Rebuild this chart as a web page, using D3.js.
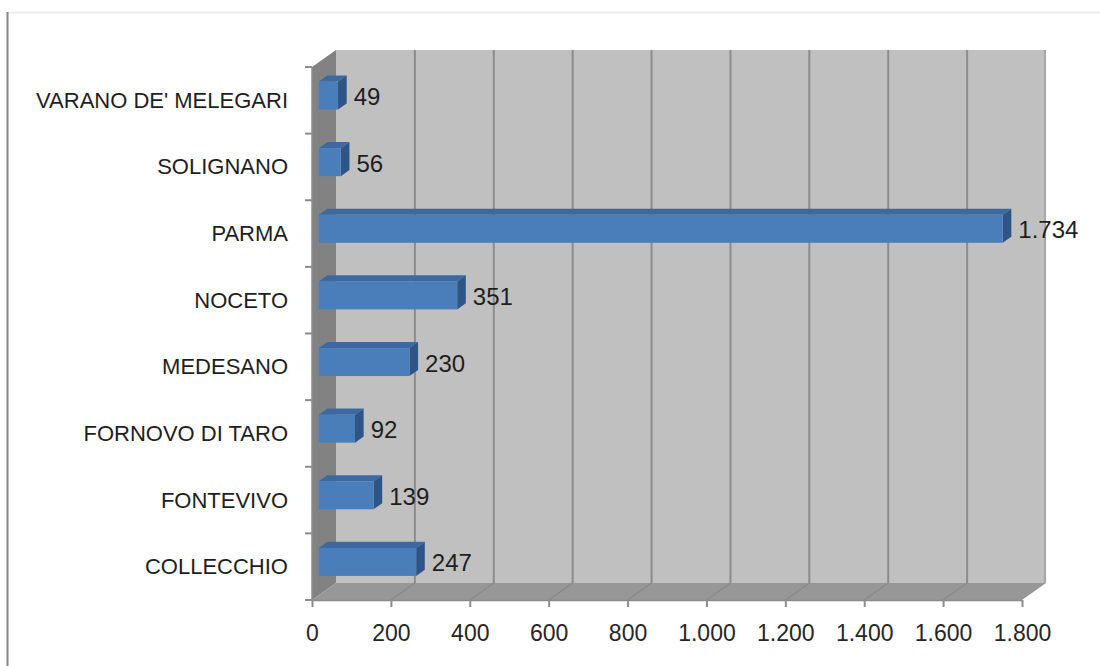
<!DOCTYPE html>
<html>
<head>
<meta charset="utf-8">
<script src="https://cdn.jsdelivr.net/npm/d3@7"></script>
<style>
  html, body { margin: 0; padding: 0; background: #ffffff; }
  svg { display: block; }
  text { font-family: "Liberation Sans", Arial, sans-serif; }
</style>
</head>
<body>
<svg id="chart" width="1100" height="666"></svg>
<script>
// Categories (bottom to top) and their values
const categories = ["COLLECCHIO", "FONTEVIVO", "FORNOVO DI TARO", "MEDESANO", "NOCETO", "PARMA", "SOLIGNANO", "VARANO DE' MELEGARI"];
const values = [247, 139, 92, 230, 351, 1734, 56, 49];
const valueLabels = ["247", "139", "92", "230", "351", "1.734", "56", "49"];
const tickValues = [0, 200, 400, 600, 800, 1000, 1200, 1400, 1600, 1800];
const tickLabels = ["0", "200", "400", "600", "800", "1.000", "1.200", "1.400", "1.600", "1.800"];

const svg = d3.select("#chart");

// Front plane geometry and 3D depth offset
const plotLeft = 312, plotRight = 1022, plotTop = 67, plotBottom = 600;
const depthX = 24, depthY = -17;

const x = d3.scaleLinear().domain([0, 1800]).range([plotLeft, plotRight]);
const y = d3.scaleBand().domain(categories).range([plotBottom, plotTop]).padding(0);

// Outer chart border
svg.append("line").attr("x1", 8).attr("x2", 1100).attr("y1", 12.5).attr("y2", 12.5)
  .attr("stroke", "#ececec").attr("stroke-width", 2);
svg.append("line").attr("x1", 7.5).attr("x2", 7.5).attr("y1", 12).attr("y2", 666)
  .attr("stroke", "#868686").attr("stroke-width", 2);

const pts = a => a.map(p => p.join(",")).join(" ");

// Back wall
svg.append("polygon")
  .attr("points", pts([[plotLeft + depthX, plotTop + depthY], [plotRight + depthX, plotTop + depthY], [plotRight + depthX, plotBottom + depthY], [plotLeft + depthX, plotBottom + depthY]]))
  .attr("fill", "#c0c0c0");
svg.append("line")
  .attr("x1", plotRight + depthX - 1).attr("x2", plotRight + depthX - 1)
  .attr("y1", plotTop + depthY).attr("y2", plotBottom + depthY)
  .attr("stroke", "#a6a6a6").attr("stroke-width", 2);

// Floor
svg.append("polygon")
  .attr("points", pts([[plotLeft, plotBottom], [plotRight, plotBottom], [plotRight + depthX, plotBottom + depthY], [plotLeft + depthX, plotBottom + depthY]]))
  .attr("fill", "#979797");

// Left wall
svg.append("polygon")
  .attr("points", pts([[plotLeft, plotTop], [plotLeft + depthX, plotTop + depthY], [plotLeft + depthX, plotBottom + depthY], [plotLeft, plotBottom]]))
  .attr("fill", "#828282");

// Gridlines on back wall and floor
const grid = tickValues.filter(v => v > 0 && v < 1800);
svg.append("g").selectAll("line").data(grid).join("line")
  .attr("x1", d => x(d) + depthX).attr("x2", d => x(d) + depthX)
  .attr("y1", plotTop + depthY).attr("y2", plotBottom + depthY)
  .attr("stroke", "#8c8c8c").attr("stroke-width", 2);
svg.append("g").selectAll("line").data(grid).join("line")
  .attr("x1", d => x(d)).attr("x2", d => x(d) + depthX)
  .attr("y1", plotBottom).attr("y2", plotBottom + depthY)
  .attr("stroke", "#8a8a8a").attr("stroke-width", 1.2);

// Axes
const xAxis = d3.axisBottom(x).tickValues(tickValues)
  .tickFormat((d, i) => tickLabels[i]).tickSize(7).tickSizeOuter(0).tickPadding(18);
const gx = svg.append("g").attr("transform", `translate(0,${plotBottom})`).call(xAxis);
gx.select(".domain").attr("stroke", "#8c8c8c").attr("stroke-width", 1.5);
gx.selectAll(".tick line").attr("stroke", "#8c8c8c").attr("stroke-width", 2);
gx.selectAll(".tick text").attr("font-size", 23).attr("fill", "#262626")
  .attr("font-family", "'Liberation Sans', Arial, sans-serif");

const yBounds = d3.range(categories.length + 1).map(i => plotBottom - i * y.step());
svg.append("line").attr("x1", plotLeft).attr("x2", plotLeft).attr("y1", plotTop).attr("y2", plotBottom)
  .attr("stroke", "#8c8c8c").attr("stroke-width", 1.5);
svg.append("g").selectAll("line").data(yBounds).join("line")
  .attr("x1", plotLeft - 7).attr("x2", plotLeft).attr("y1", d => d).attr("y2", d => d)
  .attr("stroke", "#8c8c8c").attr("stroke-width", 2);

svg.append("g").selectAll("text").data(categories).join("text")
  .attr("x", 288).attr("y", d => y(d) + y.bandwidth() / 2)
  .attr("text-anchor", "end").attr("dominant-baseline", "central")
  .attr("font-size", 22).attr("fill", "#1e1e1e")
  .text(d => d);

// 3D bars
const d0 = 0.28, d1 = 0.64;
const fx0 = depthX * d0, fy0 = depthY * d0;
const bdx = depthX * (d1 - d0), bdy = depthY * (d1 - d0);
const barH = 28;

const bars = svg.append("g").selectAll("g").data(categories).join("g");
bars.each(function (c, i) {
  const g = d3.select(this);
  const x0 = x(0) + fx0, x1 = x(values[i]) + fx0;
  const cy = y(c) + y.bandwidth() / 2 + fy0;
  const y0 = cy - barH / 2, y1 = cy + barH / 2;
  // top face
  g.append("polygon")
    .attr("points", pts([[x0, y0], [x1, y0], [x1 + bdx, y0 + bdy], [x0 + bdx, y0 + bdy]]))
    .attr("fill", "#3d69a0");
  // side face
  g.append("polygon")
    .attr("points", pts([[x1, y0], [x1 + bdx, y0 + bdy], [x1 + bdx, y1 + bdy], [x1, y1]]))
    .attr("fill", "#2f5587");
  // front face
  g.append("rect")
    .attr("x", x0).attr("y", y0).attr("width", x1 - x0).attr("height", barH)
    .attr("fill", "#4a7ebb");
  // value label
  g.append("text")
    .attr("x", x1 + bdx + 7).attr("y", cy + 1)
    .attr("dominant-baseline", "central")
    .attr("font-size", 24).attr("fill", "#1e1e1e")
    .text(valueLabels[i]);
});
</script>
</body>
</html>
